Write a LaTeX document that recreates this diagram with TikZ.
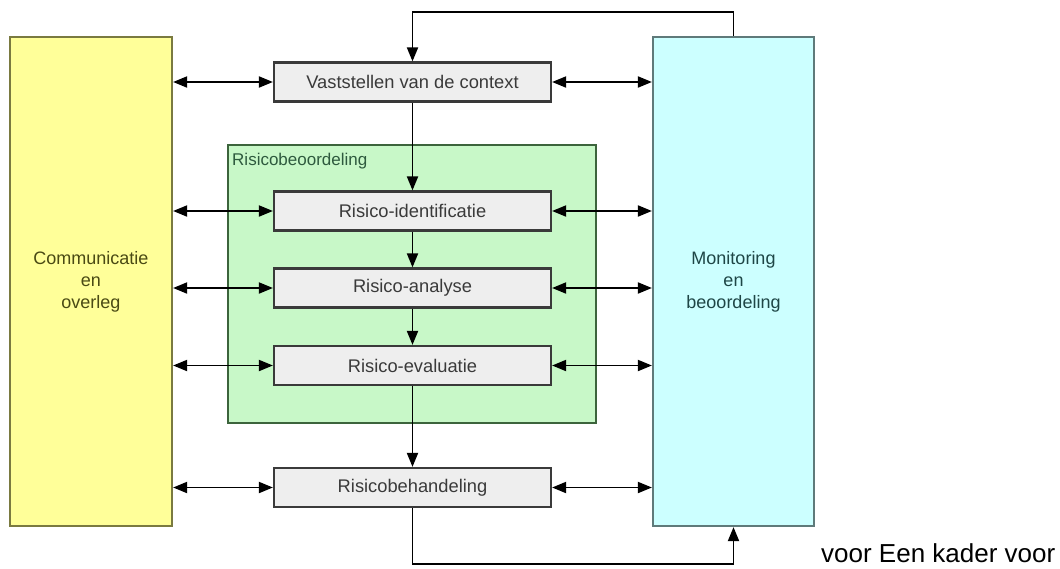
\documentclass[tikz,border=0pt]{standalone}
\usepackage{fontspec}
\setmainfont{Liberation Sans}
\usetikzlibrary{arrows.meta}
\definecolor{yelfill}{HTML}{FFFF99}
\definecolor{yelline}{HTML}{7A7A40}
\definecolor{yeltext}{HTML}{4A4A14}
\definecolor{cyfill}{HTML}{CCFFFF}
\definecolor{cyline}{HTML}{5F7A7A}
\definecolor{cytext}{HTML}{1E4646}
\definecolor{grfill}{HTML}{C8F8C8}
\definecolor{grline}{HTML}{3C643C}
\definecolor{grtext}{HTML}{2E5A3E}
\definecolor{bxfill}{HTML}{EEEEEE}
\definecolor{bxline}{HTML}{3A3A3A}
\definecolor{bxtext}{HTML}{3A3A3A}
\tikzset{
  sidebox/.style={draw, line width=2.2pt, minimum width=162pt, minimum height=489pt, inner sep=0pt, align=center, font=\fontsize{18}{22}\selectfont},
  stepbox/.style={draw=bxline, fill=bxfill, line width=2.2pt, minimum width=277pt, minimum height=39pt, inner sep=0pt, text=bxtext, font=\fontsize{18.3}{22}\selectfont},
  groupbox/.style={draw=grline, fill=grfill, line width=2.2pt, minimum width=368pt, minimum height=278pt, inner sep=0pt},
  arr/.style={line width=1.9pt, -{Triangle[length=14pt,width=11pt]}},
  darr/.style={line width=1.9pt, {Triangle[length=14pt,width=11pt]}-{Triangle[length=14pt,width=11pt]}},
}
\begin{document}
\begin{tikzpicture}[x=1pt,y=-1pt]
\useasboundingbox (0,0) rectangle (1060,568);
\node[sidebox, draw=yelline, fill=yelfill, text=yeltext] (com) at (91,281.5) {Communicatie\\en\\overleg};
\node[sidebox, draw=cyline, fill=cyfill, text=cytext, minimum width=161pt] (mon) at (733.5,281.5) {Monitoring\\en\\beoordeling};
\node[groupbox] (grp) at (412,284) {};
\node[anchor=base west, text=grtext, font=\fontsize{17}{20}\selectfont, inner sep=0pt] (grplabel) at (232,165) {Risicobeoordeling};
\node[stepbox] (ctx) at (412.5,82) {Vaststellen van de context};
\node[stepbox] (ide) at (412.5,211) {Risico-identificatie};
\node[stepbox] (ana) at (412.5,288) {Risico-analyse};
\node[stepbox] (eva) at (412.5,365.5) {Risico-evaluatie};
\node[stepbox] (beh) at (412.5,487.5) {Risicobehandeling};
\node[anchor=base west, inner sep=0pt, font=\fontsize{26}{30}\selectfont] (cap) at (821,562) {voor Een kader voor};
% vertical flow
\draw[arr] (ctx.south) -- (ide.north);
\draw[arr] (ide.south) -- (ana.north);
\draw[arr] (ana.south) -- (eva.north);
\draw[arr] (eva.south) -- (beh.north);
% feedback loops
\draw[arr] (mon.north) -- ++(0,-24) -| (ctx.north);
\draw[arr] (beh.south) -- ++(0,56) -| (mon.south);
% horizontal double arrows
\foreach \n in {ctx,ide,ana,eva,beh}{
  \draw[darr] (com.east |- \n.west) -- (\n.west);
  \draw[darr] (\n.east) -- (mon.west |- \n.east);
}
\end{tikzpicture}
\end{document}
